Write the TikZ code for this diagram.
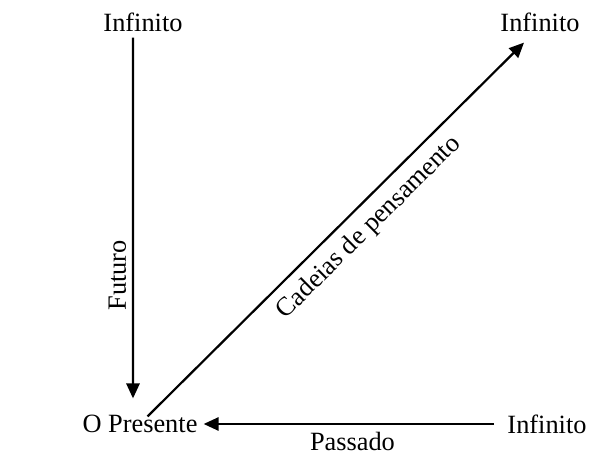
\documentclass[tikz,border=0pt]{standalone}
\usepackage{fontspec}
\setmainfont{Liberation Serif}
\usepackage{tikz}
\usetikzlibrary{arrows.meta, positioning}

\begin{document}
\begin{tikzpicture}[x=0.02cm, y=-0.02cm, font=\fontsize{15}{18}\selectfont,
    arr/.style={line width=1.25pt, -{Triangle[length=8.5pt, width=7.5pt]}}]
    \useasboundingbox (0,0) rectangle (603,456);
    % the four ends
    \node (infTop) at (143,22) {Infinito};
    \node (infDiag) at (540,22) {Infinito};
    \node (presente) at (140,424) {O Presente};
    \node (infRight) at (547,424) {Infinito};
    % connectors
    \draw[arr, shorten >=6pt] ([xshift=-0.2cm]infTop.south) -- ([xshift=-0.14cm]presente.north)
      node[pos=.64, rotate=90, anchor=south] {Futuro};
    \draw[arr, shorten <=2pt] ([xshift=0.1cm, yshift=-0.2cm]presente.north) -- ([xshift=-0.32cm, yshift=-0.1cm]infDiag.south)
      node[pos=.55, sloped, below=2pt] {Cadeias de pensamento};
    \draw[arr, shorten <=4pt] (infRight.west) -- (presente.east)
      node[midway, below=1pt] {Passado};
\end{tikzpicture}
\end{document}
